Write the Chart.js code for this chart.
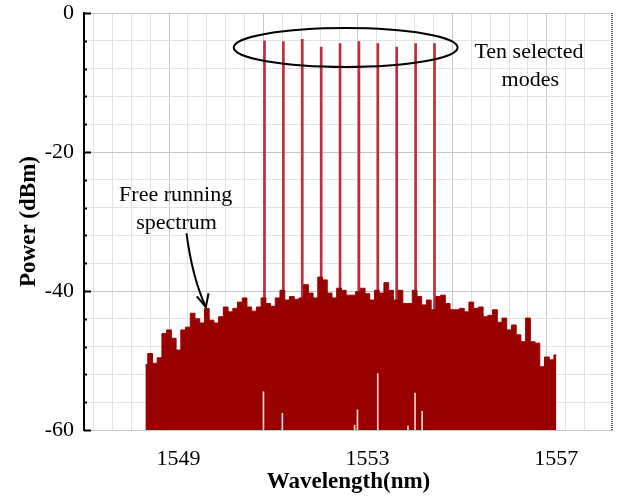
<!DOCTYPE html>
<html>
<head>
<meta charset="utf-8">
<script src="https://cdn.jsdelivr.net/npm/chart.js@4/dist/chart.umd.min.js"></script>
<style>
  html, body { margin: 0; padding: 0; background: #fff; }
  #wrap { width: 617px; height: 499px; }
</style>
</head>
<body>
<div id="wrap"><canvas id="spectrumChart" width="617" height="499"></canvas></div>
<script>
// --- DATA ---
// free running spectrum, sampled every 0.1 nm from 1548.3 nm
const spectrumStart = 1548.3;
const spectrumStep = 0.1;
const spectrumPower = [
  -50.6, -49.0, -50.4, -49.6, -46.1, -45.6, -46.8, -48.5, -45.6, -45.2,
  -43.2, -44.0, -44.6, -42.5, -44.2, -44.6, -43.7, -42.3, -43.0, -42.5,
  -41.6, -41.0, -42.3, -42.9, -42.3, -41.0, -41.8, -42.2, -41.0, -39.9,
  -41.3, -40.8, -41.2, -41.0, -39.1, -40.3, -41.0, -38.0, -38.4, -40.3,
  -41.0, -39.6, -39.9, -40.6, -40.6, -40.1, -39.6, -40.4, -41.3, -39.9,
  -40.3, -38.8, -39.9, -41.3, -39.9, -41.8, -41.8, -39.9, -40.8, -42.0,
  -41.3, -42.7, -40.8, -40.6, -41.8, -42.7, -42.7, -42.5, -43.0, -41.6,
  -42.5, -42.3, -43.7, -43.5, -42.7, -44.5, -43.9, -45.6, -44.9, -46.3,
  -47.3, -43.9, -47.3, -47.5, -50.9, -49.5, -49.9, -49.2
];

// ten selected modes
const modeWavelengths = [1550.8, 1551.2, 1551.6, 1552.0, 1552.4, 1552.8, 1553.2, 1553.6, 1554.0, 1554.4];
const modePower = [-4.0, -4.1, -3.8, -4.9, -4.4, -4.1, -4.4, -4.9, -4.4, -4.4];

// thin light gaps inside the spectrum
const gapWavelengths = [1550.81, 1551.21, 1552.74, 1552.80, 1553.23, 1553.87, 1554.02, 1554.17];
const gapTops = [-54.5, -57.6, -59.3, -57.1, -51.9, -59.4, -54.7, -57.3];

// axes
const xMin = 1547, xMax = 1558.2, xStep = 0.4;
const xLabelled = [1549, 1553, 1557];
const yMin = -60, yMax = 0, yStep = 4;
const yLabelled = [0, -20, -40, -60];

// annotations (data units)
const ellipseCenter = [1552.54, -4.96];
const ellipseRadius = [2.37, 2.8];
const modesLabel = ['Ten selected', 'modes'];
const modesLabelPos = [[1556.42, -5.6], [1556.45, -9.6]];
const freeLabel = ['Free running', 'spectrum'];
const freeLabelPos = [[1548.94, -26.2], [1548.96, -30.2]];
const arrowFrom = [1549.17, -31.7];
const arrowTo = [1549.58, -42.3];

const SPECTRUM_RED = '#990000';
const MODE_RED = '#c42a3a';
const GRID_MINOR = '#e3e3e3';
const GRID_MAJOR = '#c6c6c6';

function near(a, b) { return Math.abs(a - b) < 1e-6; }

const spectrumPoints = spectrumPower.map((p, i) => ({ x: spectrumStart + i * spectrumStep, y: p }));
const modePoints = modeWavelengths.map((w, i) => ({ x: w, y: [yMin, modePower[i]] }));
const gapPoints = gapWavelengths.map((w, i) => ({ x: w, y: [yMin, gapTops[i]] }));

Chart.defaults.font.family = '"Liberation Serif", "Times New Roman", serif';
Chart.defaults.color = '#000';

// inward ticks, dotted right border and the hand drawn notes
const annotations = {
  id: 'annotations',
  afterDatasetsDraw(chart) {
    const { ctx, chartArea, scales: { x, y } } = chart;
    ctx.save();

    // inward ticks on the left axis
    ctx.strokeStyle = '#000';
    ctx.lineWidth = 2;
    y.ticks.forEach(t => {
      const py = Math.round(y.getPixelForValue(t.value)) + 0.5;
      const len = yLabelled.some(v => near(v, t.value)) ? 7 : 3;
      ctx.beginPath();
      ctx.moveTo(chartArea.left, py);
      ctx.lineTo(chartArea.left + len, py);
      ctx.stroke();
    });

    // dotted right border
    ctx.strokeStyle = '#555';
    ctx.lineWidth = 2;
    ctx.setLineDash([1, 1]);
    ctx.beginPath();
    ctx.moveTo(chartArea.right - 1, chartArea.top);
    ctx.lineTo(chartArea.right - 1, chartArea.bottom);
    ctx.stroke();
    ctx.setLineDash([]);

    // ellipse round the selected modes
    const cx = x.getPixelForValue(ellipseCenter[0]);
    const cy = y.getPixelForValue(ellipseCenter[1]);
    const rx = x.getPixelForValue(ellipseCenter[0] + ellipseRadius[0]) - cx;
    const ry = y.getPixelForValue(ellipseCenter[1] - ellipseRadius[1]) - cy;
    ctx.strokeStyle = '#000';
    ctx.lineWidth = 2;
    ctx.beginPath();
    ctx.ellipse(cx, cy, rx, ry, 0, 0, Math.PI * 2);
    ctx.stroke();

    // texts
    ctx.fillStyle = '#000';
    ctx.font = '22px "Liberation Serif", serif';
    ctx.textAlign = 'center';
    ctx.textBaseline = 'middle';
    modesLabel.forEach((s, i) => ctx.fillText(s, x.getPixelForValue(modesLabelPos[i][0]), y.getPixelForValue(modesLabelPos[i][1])));
    freeLabel.forEach((s, i) => ctx.fillText(s, x.getPixelForValue(freeLabelPos[i][0]), y.getPixelForValue(freeLabelPos[i][1])));

    // arrow to the spectrum
    const ax0 = x.getPixelForValue(arrowFrom[0]), ay0 = y.getPixelForValue(arrowFrom[1]);
    const ax1 = x.getPixelForValue(arrowTo[0]), ay1 = y.getPixelForValue(arrowTo[1]);
    ctx.lineWidth = 2;
    ctx.beginPath();
    ctx.moveTo(ax0, ay0);
    ctx.quadraticCurveTo(ax0 + (ax1 - ax0) * 0.3, ay0 + (ay1 - ay0) * 0.6, ax1, ay1);
    ctx.stroke();
    const ang = Math.atan2(ay1 - ay0, ax1 - ax0);
    ctx.beginPath();
    ctx.moveTo(ax1 - 14 * Math.cos(ang - 0.45), ay1 - 14 * Math.sin(ang - 0.45));
    ctx.lineTo(ax1, ay1);
    ctx.lineTo(ax1 - 14 * Math.cos(ang + 0.45), ay1 - 14 * Math.sin(ang + 0.45));
    ctx.stroke();

    ctx.restore();
  }
};

function xGridColor(c) {
  if (!c.tick) return GRID_MINOR;
  const v = c.tick.value;
  if (near(v, xMax)) return 'rgba(0,0,0,0)';
  return near((v - xMin) / 2, Math.round((v - xMin) / 2)) ? GRID_MAJOR : GRID_MINOR;
}

function yGridColor(c) {
  if (!c.tick) return GRID_MINOR;
  return yLabelled.some(v => near(v, c.tick.value)) ? GRID_MAJOR : GRID_MINOR;
}

// fixed plot box: no extra padding from the tick labels
function noPad(s) {
  s.paddingLeft = 0; s.paddingRight = 0; s.paddingTop = 0; s.paddingBottom = 0;
}

new Chart(document.getElementById('spectrumChart'), {
  type: 'line',
  data: {
    datasets: [
      {
        label: 'Selected modes',
        type: 'bar',
        data: modePoints,
        backgroundColor: MODE_RED,
        barThickness: 2,
        order: 3
      },
      {
        label: 'Free running spectrum',
        data: spectrumPoints,
        borderColor: SPECTRUM_RED,
        backgroundColor: SPECTRUM_RED,
        borderWidth: 1,
        pointRadius: 0,
        stepped: 'middle',
        fill: 'start',
        order: 2
      },
      {
        label: 'Gaps',
        type: 'bar',
        data: gapPoints,
        backgroundColor: '#f3d6d6',
        barThickness: 1,
        order: 1
      }
    ]
  },
  options: {
    responsive: false,
    animation: false,
    layout: { padding: { left: 0, top: 13, right: 4, bottom: 0 } },
    plugins: { legend: { display: false }, tooltip: { enabled: false } },
    scales: {
      x: {
        type: 'linear',
        min: xMin,
        max: xMax,
        offset: false,
        afterFit: s => { s.height = 69; noPad(s); },
        border: { display: false },
        grid: {
          drawTicks: false,
          color: xGridColor
        },
        ticks: {
          stepSize: xStep,
          autoSkip: false,
          maxRotation: 0,
          padding: 16,
          font: { size: 22 },
          callback: v => xLabelled.some(l => near(l, v)) ? String(Math.round(v)) : ''
        },
        title: {
          display: true,
          text: 'Wavelength(nm)',
          font: { size: 23, weight: 'bold' },
          padding: { top: 0, bottom: 3 }
        }
      },
      y: {
        min: yMin,
        max: yMax,
        afterFit: s => { s.width = 84; noPad(s); },
        border: { display: true, color: '#000', width: 2 },
        grid: {
          drawTicks: false,
          color: yGridColor
        },
        ticks: {
          stepSize: yStep,
          autoSkip: false,
          padding: 10,
          font: { size: 22 },
          callback: v => yLabelled.some(l => near(l, v)) ? String(v) : ''
        },
        title: {
          display: true,
          text: 'Power (dBm)',
          font: { size: 23, weight: 'bold' },
          padding: { top: 15, bottom: 0 }
        }
      }
    }
  },
  plugins: [annotations]
});
</script>
</body>
</html>
